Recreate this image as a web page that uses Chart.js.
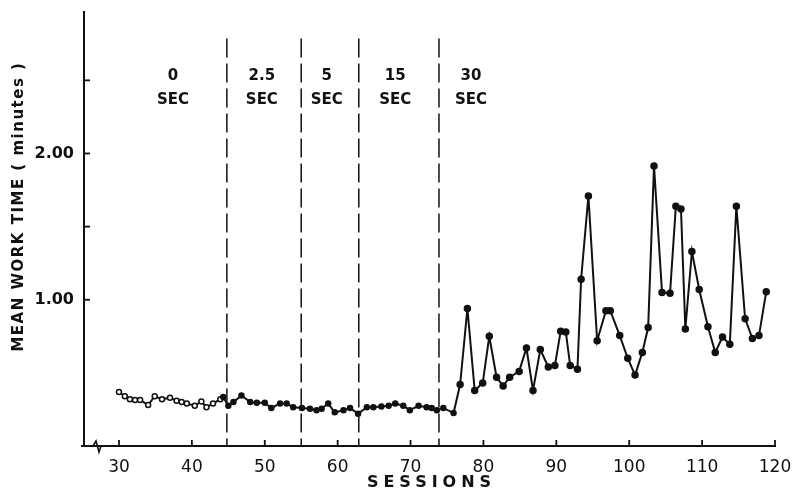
<!DOCTYPE html>
<html><head><meta charset="utf-8">
<script src="https://cdn.jsdelivr.net/npm/chart.js@4"></script>
<style>html,body{margin:0;padding:0;background:#fff}#wrap{width:802px;height:494px}</style>
</head><body><div id="wrap"><canvas id="c" width="802" height="494"></canvas></div>
<script>
// ---- data ----
const sessions = [
  30.0,30.8,31.5,32.2,32.9,34.0,34.9,35.9,37.0,37.9,38.6,39.3,40.4,41.3,42.0,42.9,43.9,44.3,45.0,45.7,
  46.8,48.0,48.9,50.0,50.9,52.1,53.0,53.9,55.1,56.2,57.1,57.8,58.7,59.6,60.8,61.7,62.8,64.0,64.9,66.0,
  67.0,67.9,69.0,69.9,71.1,72.2,72.9,73.6,74.5,75.9,
  76.8,77.8,78.8,79.9,80.8,81.8,82.7,83.6,84.9,85.9,86.8,87.8,88.9,89.8,90.6,91.3,91.9,92.9,93.4,94.4,
  95.6,96.8,97.4,98.7,99.8,100.8,101.8,102.6,103.4,104.5,105.6,106.4,107.1,107.7,108.6,109.6,110.8,111.8,
  112.8,113.8,114.7,115.9,116.9,117.8,118.8
];
const workTime = [
  0.37,0.34,0.32,0.315,0.315,0.28,0.34,0.32,0.33,0.31,0.30,0.29,0.275,0.305,0.265,0.29,0.32,0.335,0.275,0.30,
  0.345,0.30,0.295,0.295,0.26,0.29,0.29,0.265,0.26,0.255,0.245,0.255,0.29,0.23,0.245,0.26,0.22,0.265,0.265,0.27,
  0.275,0.29,0.275,0.245,0.275,0.265,0.26,0.245,0.26,0.225,
  0.42,0.94,0.38,0.43,0.75,0.47,0.41,0.47,0.51,0.67,0.38,0.66,0.54,0.55,0.785,0.78,0.55,0.525,1.14,1.71,
  0.72,0.925,0.925,0.755,0.60,0.485,0.64,0.81,1.915,1.05,1.045,1.64,1.62,0.80,1.33,1.07,0.815,0.64,
  0.745,0.695,1.64,0.87,0.735,0.755,1.055
];
const xTickValues = [30,40,50,60,70,80,90,100,110,120];
const yTickValues = [1.0,1.5,2.0,2.5];
const yTickLabels = ['1.00','','2.00',''];
const phaseBoundaries = [44.8,55,62.9,73.9];
const phaseDelays = ['0','2.5','5','15','30'];
const phaseUnit = 'SEC';
const xTitle = 'SESSIONS';
const yTitle = 'MEAN WORK TIME ( minutes )';

// ---- drawing ----
const INK = '#111';
const FONT = "'DejaVu Sans', sans-serif";
const phaseLabelAt = [37.4,49.6,58.5,67.9,78.3]; // label centres, in session units
const points = sessions.map((s,i)=>({x:s,y:workTime[i]}));

const overlay = {
  id:'overlay',
  afterDraw(chart){
    const {ctx, chartArea:a, scales:{x,y}} = chart;
    const line=(x1,y1,x2,y2)=>{ctx.beginPath();ctx.moveTo(x1,y1);ctx.lineTo(x2,y2);ctx.stroke();};
    ctx.save();
    ctx.strokeStyle=INK; ctx.fillStyle=INK; ctx.lineCap='butt';
    // x axis stub left of the y axis
    ctx.lineWidth=2;
    line(a.left-3,a.bottom,a.left,a.bottom);
    // inward tick marks
    ctx.lineWidth=1.8;
    xTickValues.forEach(v=>{const px=x.getPixelForValue(v); line(px,a.bottom,px,a.bottom-6);});
    yTickValues.forEach(v=>{const py=y.getPixelForValue(v); line(a.left,py,a.left+6,py);});
    // axis break mark
    const bx=a.left+13, by=a.bottom;
    ctx.lineWidth=1.6;
    ctx.beginPath(); ctx.moveTo(bx-4,by); ctx.lineTo(bx-1,by-5); ctx.lineTo(bx+2,by+6); ctx.lineTo(bx+4,by); ctx.stroke();
    // phase boundaries
    ctx.setLineDash([19,6]); ctx.lineWidth=1.5;
    phaseBoundaries.forEach(b=>{const px=x.getPixelForValue(b); line(px,a.top+27,px,a.bottom);});
    ctx.setLineDash([]);
    // phase labels
    ctx.textAlign='center'; ctx.textBaseline='middle';
    ctx.font="bold 15px "+FONT;
    phaseDelays.forEach((d,i)=>{
      const px=x.getPixelForValue(phaseLabelAt[i]);
      ctx.fillText(d,px,a.top+65);
      ctx.fillText(phaseUnit,px,a.top+89);
    });
    // x title
    ctx.font="bold 16px "+FONT;
    ctx.letterSpacing='5px';
    ctx.fillText(xTitle,(a.left+a.right)/2+2,a.bottom+37);
    // y title
    ctx.font="bold 15px "+FONT;
    ctx.letterSpacing='1.5px';
    ctx.translate(19,a.top+195); ctx.rotate(-Math.PI/2);
    ctx.fillText(yTitle,0,0);
    ctx.restore();
  }
};

Chart.defaults.font.family = FONT;
Chart.defaults.color = INK;

new Chart(document.getElementById('c'),{
  type:'scatter',
  data:{datasets:[{
    data:points,
    showLine:true,
    borderColor:INK,
    borderWidth:2,
    tension:0,
    pointRadius:c=>(c.raw && c.raw.x<76 ? 2.5 : 3),
    pointBorderWidth:1.5,
    pointBorderColor:INK,
    pointBackgroundColor:c=>(c.raw && c.raw.x<44 ? '#fff' : INK)
  }]},
  options:{
    responsive:false,
    animation:false,
    events:[],
    layout:{padding:{top:8,right:27,left:0,bottom:0}},
    plugins:{legend:{display:false},tooltip:{enabled:false}},
    scales:{
      x:{
        type:'linear', min:25.2, max:120,
        grid:{display:false},
        border:{display:true,color:INK,width:2},
        afterBuildTicks:s=>{s.ticks=xTickValues.map(v=>({value:v}));},
        afterFit:s=>{s.height=48;},
        ticks:{autoSkip:false,maxRotation:0,padding:3,font:{size:17},color:INK,callback:v=>String(v)}
      },
      y:{
        type:'linear', min:0, max:2.97,
        grid:{display:false},
        border:{display:true,color:INK,width:2},
        afterBuildTicks:s=>{s.ticks=yTickValues.map(v=>({value:v}));},
        afterFit:s=>{s.width=84;},
        ticks:{autoSkip:false,padding:2,font:{size:16,weight:'bold'},color:INK,
          callback:v=>{const i=yTickValues.indexOf(v);return i<0?'':yTickLabels[i];}}
      }
    }
  },
  plugins:[overlay]
});
</script></body></html>
